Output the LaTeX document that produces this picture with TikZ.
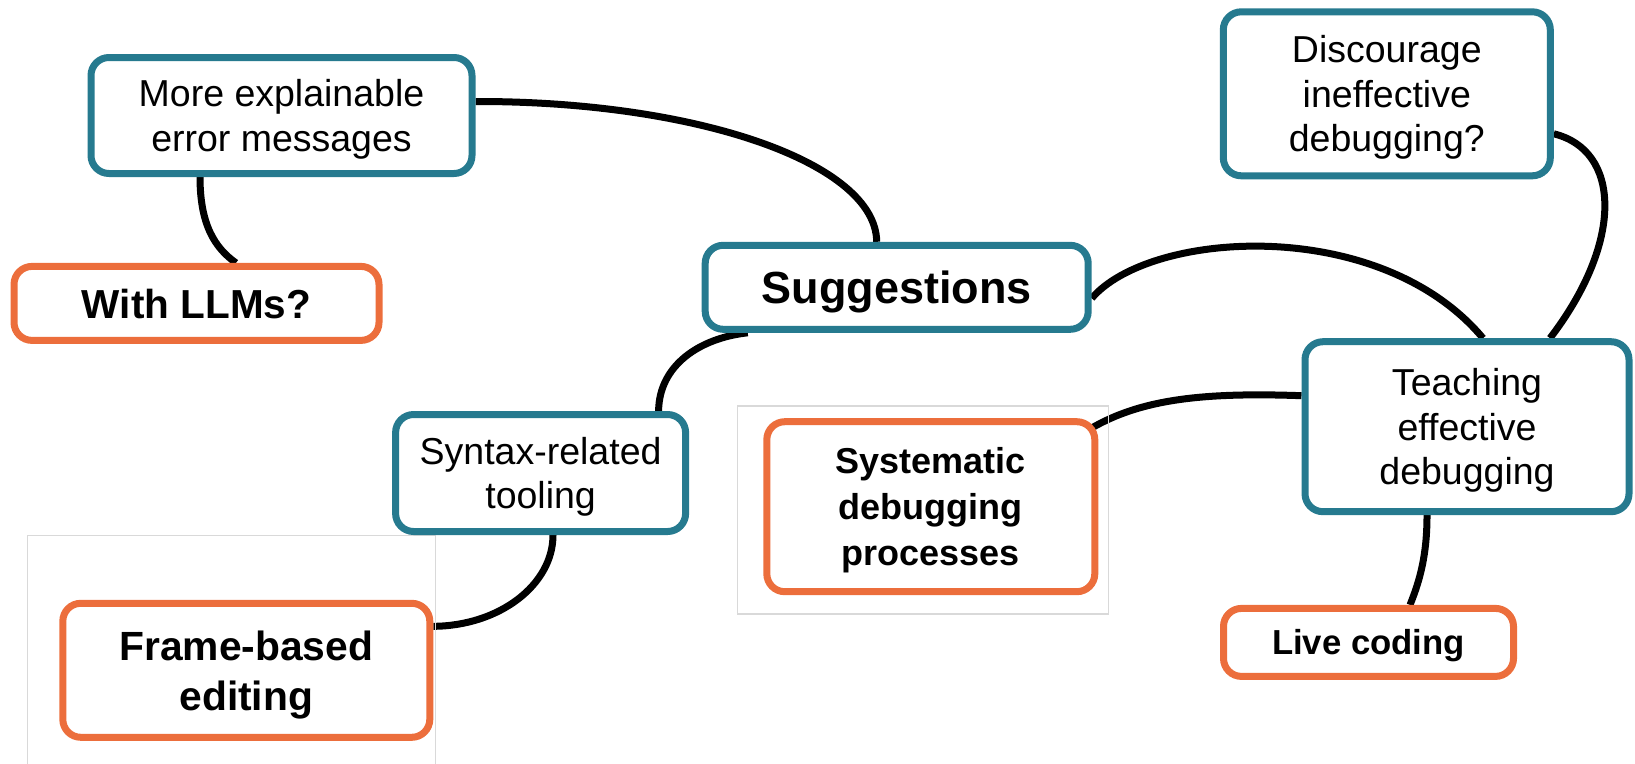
\documentclass[tikz,border=0pt]{standalone}
\usepackage{fontspec}
\setmainfont{Liberation Sans}
\definecolor{teal}{RGB}{38,122,143}
\definecolor{orng}{RGB}{236,110,60}
\definecolor{lgrey}{RGB}{217,217,217}
\pgfdeclarelayer{background}
\pgfsetlayers{background,main}
\tikzset{
  box/.style={draw, line width=7pt, rounded corners=18pt, fill=white, align=center, inner sep=0pt, text depth=0pt},
  tealbox/.style={box, draw=teal, font=\fontsize{37.5}{44.5}\selectfont},
  orngbox/.style={box, draw=orng, font=\fontsize{40.8}{50}\selectfont\bfseries},
  conn/.style={draw=black, line width=7pt},
  frame/.style={draw=lgrey, line width=1.2pt}
}
\begin{document}
\begin{tikzpicture}[x=1pt,y=-1pt]
\useasboundingbox (0,0) rectangle (1635,763);
% thin grey frames
\draw[frame] (27.7,535.7) rectangle (435.3,770);
\draw[frame] (737.3,406) rectangle (1108.3,614);
% nodes
\node[tealbox, minimum width=381pt, minimum height=116pt] (expl) at (281.5,115.5) {More explainable\\error messages};
\node[orngbox, minimum width=365pt, minimum height=74pt, font=\fontsize{40.5}{50}\selectfont\bfseries] (llm) at (196.5,303.4) {With LLMs?};
\node[tealbox, minimum width=383pt, minimum height=84pt, font=\fontsize{45}{50}\selectfont\bfseries] (sugg) at (896.7,287.3) {Suggestions};
\node[tealbox, minimum width=327pt, minimum height=164pt] (disc) at (1386.8,93.8) {Discourage\\ineffective\\debugging?};
\node[tealbox, minimum width=290pt, minimum height=117pt] (syn) at (540.6,473) {Syntax-related\\tooling};
\node[tealbox, minimum width=324pt, minimum height=170pt] (teach) at (1467,426.7) {Teaching\\effective\\debugging};
\node[orngbox, minimum width=328pt, minimum height=170pt, font=\fontsize{36}{46}\selectfont\bfseries] (sys) at (930.8,506.7) {Systematic\\debugging\\processes};
\node[orngbox, minimum width=367pt, minimum height=134pt] (frm) at (246.3,670.3) {Frame-based\\editing};
\node[orngbox, minimum width=290pt, minimum height=68pt, font=\fontsize{34.7}{40}\selectfont\bfseries] (live) at (1368.5,642.4) {Live coding};
% connectors
\begin{pgfonlayer}{background}
\draw[conn] ([yshift=14pt]expl.east) .. controls (697,101) and (876,163) .. ([xshift=-20pt]sugg.north);
\draw[conn] ([xshift=-81.5pt]expl.south) .. controls (200,225) and (215,248) .. ([xshift=39.5pt]llm.north);
\draw[conn] ([xshift=-149pt]sugg.south) .. controls (700,338) and (659,365) .. ([xshift=118pt]syn.north);
\draw[conn] ([xshift=12.4pt]syn.south) .. controls (553,585) and (499,626) .. ([yshift=44pt]frm.east);
\draw[conn] ([yshift=-11pt]sugg.east) .. controls (1150,230) and (1380,215) .. ([xshift=16pt]teach.north);
\draw[conn] ([yshift=-40pt]disc.east) .. controls (1620,150) and (1625,240) .. ([xshift=83pt]teach.north);
\draw[conn] ([yshift=31pt]teach.west) .. controls (1200,392) and (1140,400) .. ([xshift=-7pt,yshift=-10pt]sys.north east);
\draw[conn] ([xshift=-40pt]teach.south) .. controls (1427,555) and (1420,580) .. ([xshift=41.5pt]live.north);
\end{pgfonlayer}
\end{tikzpicture}
\end{document}
